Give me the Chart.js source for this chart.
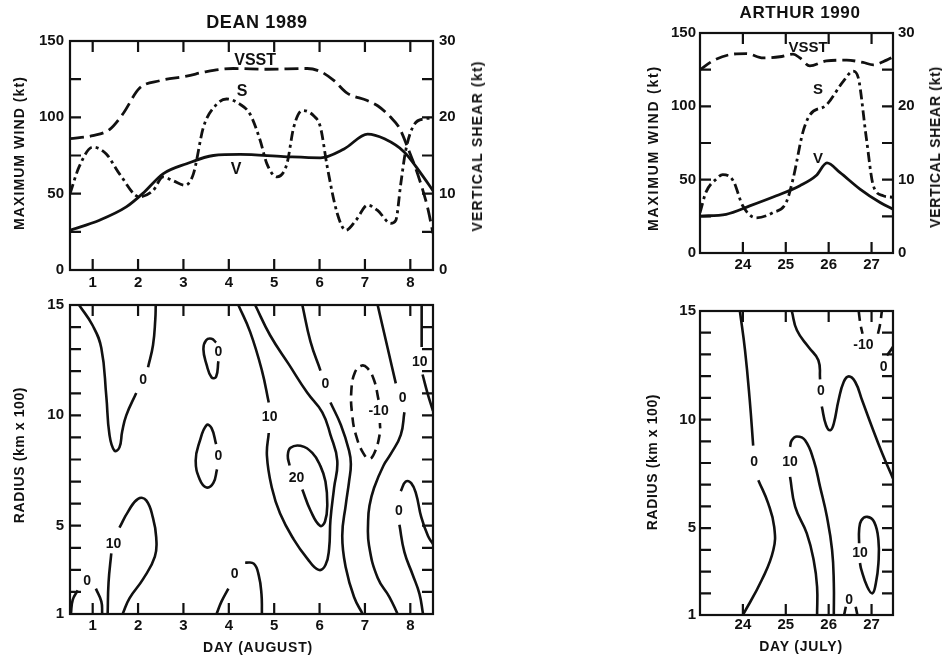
<!DOCTYPE html>
<html>
<head>
<meta charset="utf-8">
<script src="https://cdn.jsdelivr.net/npm/chart.js@4.4.1/dist/chart.umd.min.js"></script>
<style>
  body { margin: 0; width: 942px; height: 658px; position: relative; background: #fff; overflow: hidden; }
  canvas { position: absolute; }
  .t { position: absolute; font-family: "Liberation Sans", Arial, sans-serif; font-weight: bold; color: #111;
       white-space: nowrap; line-height: 1; transform: translate(-50%, -50%); }
  .v { transform: translate(-50%, -50%) rotate(-90deg); }
</style>
</head>
<body>
<canvas id="deanTop" width="500" height="290" style="left:0;top:0"></canvas>
<canvas id="deanBottom" width="500" height="368" style="left:0;top:290px"></canvas>
<canvas id="arthurTop" width="342" height="290" style="left:600px;top:0"></canvas>
<canvas id="arthurBottom" width="342" height="368" style="left:600px;top:290px"></canvas>

<div class="t" style="left:257px;top:22px;font-size:18px;letter-spacing:0.6px">DEAN 1989</div>
<div class="t" style="left:800px;top:12px;font-size:17px;letter-spacing:0.6px">ARTHUR 1990</div>
<div class="t v" style="left:19px;top:153px;font-size:14px;letter-spacing:1.1px">MAXIMUM WIND (kt)</div>
<div class="t v" style="left:477px;top:146px;font-size:14px;letter-spacing:1.2px">VERTICAL SHEAR (kt)</div>
<div class="t v" style="left:19px;top:455px;font-size:14px;letter-spacing:0.6px">RADIUS (km x 100)</div>
<div class="t" style="left:258px;top:647px;font-size:14px;letter-spacing:0.8px">DAY (AUGUST)</div>
<div class="t v" style="left:653px;top:148px;font-size:14px;letter-spacing:1.8px">MAXIMUM WIND (kt)</div>
<div class="t v" style="left:935px;top:147px;font-size:14px;letter-spacing:0.7px">VERTICAL SHEAR (kt)</div>
<div class="t v" style="left:652px;top:462px;font-size:14px;letter-spacing:0.6px">RADIUS (km x 100)</div>
<div class="t" style="left:801px;top:646px;font-size:14px;letter-spacing:0.8px">DAY (JULY)</div>

<script>
// Axis ticks
const deanDayTicks = [1, 2, 3, 4, 5, 6, 7, 8];
const arthurDayTicks = [24, 25, 26, 27];
const windTicks = [0, 25, 50, 75, 100, 125, 150];
const windLabels = [0, 50, 100, 150];
const shearTicks = [0, 5, 10, 15, 20, 25, 30];
const shearLabels = [0, 10, 20, 30];
const radiusTicks = [1, 2, 3, 4, 5, 6, 7, 8, 9, 10, 11, 12, 13, 14, 15];
const radiusLabels = [1, 5, 10, 15];

// DEAN 1989 time series: [day, value]
const deanWind = [[0.5,26],[1.15,32.6],[1.74,41.3],[2.1,50],[2.55,63],[3.07,69.6],[3.66,75],[4.25,75.7],
  [5.21,74.3],[6.02,73.5],[6.54,79.3],[7.06,89],[7.43,85.9],[7.87,77.2],[8.24,63],[8.5,52]];
const deanShear = [[0.5,10],[0.7,13.5],[1.0,16.1],[1.3,15.2],[1.59,12.6],[2.03,9.6],[2.33,10.4],[2.55,12.2],
  [2.77,11.7],[3.03,11.1],[3.22,12.6],[3.44,18.7],[3.73,21.7],[3.95,22.4],[4.25,21.7],[4.47,20.4],[4.69,17],
  [4.84,13.9],[5.06,12.2],[5.28,13.9],[5.43,18.7],[5.62,20.9],[5.87,20.2],[6.02,18.7],[6.17,13.5],[6.39,7.4],
  [6.58,5.2],[6.8,6.5],[7.06,8.5],[7.28,7.8],[7.57,6.1],[7.68,6.5],[7.79,11.3],[7.9,15.7],[8.09,19.1],
  [8.31,19.8],[8.5,19.9]];
const deanVsst = [[0.5,86],[1.0,88],[1.37,92],[1.66,102],[2.03,119],[2.48,124],[3.07,127],[3.51,130],[4.1,132],
  [4.84,131.5],[5.73,132],[6.02,130],[6.32,124],[6.6,116],[7.05,111],[7.28,107.6],[7.57,100],[7.76,93],
  [7.94,80.4],[8.16,63],[8.38,41],[8.5,24]];
const deanCurveLabels = [['VSST',4.58,137.4],['S',4.29,117],['V',4.16,66]];

// ARTHUR 1990 time series
const arthurWind = [[23.0,25.2],[23.61,26.4],[24.16,32.1],[24.78,39],[25.33,45.9],[25.71,52.8],[25.96,61.5],
  [26.26,55],[26.73,43.6],[27.2,34.4],[27.5,29.8]];
const arthurShear = [[23.0,5.5],[23.14,8.3],[23.38,10.1],[23.53,10.7],[23.77,9.9],[24.0,6.4],[24.31,4.8],
  [24.7,5.5],[25.01,6.9],[25.17,10.1],[25.4,16.5],[25.56,18.8],[25.95,20.2],[26.34,23.4],[26.57,24.8],
  [26.69,23.9],[26.88,15.6],[27.04,9.2],[27.27,7.8],[27.5,7.6]];
const arthurVsst = [[23.0,125],[23.3,131],[23.77,135.6],[24.08,136],[24.47,133],[24.86,133.8],[25.17,135.6],
  [25.33,133],[25.56,127.6],[25.95,131],[26.42,131.5],[26.8,129.9],[27.04,128.3],[27.35,131.5],[27.5,133.8]];
const arthurCurveLabels = [['VSST',25.52,140],['S',25.75,111],['V',25.75,64]];

// DEAN 1989 contours: [day, radius], null = break at a contour label
const deanC1 = [[0.7,15],[1.0,14.07],[1.19,13.05],[1.3,10.87],[1.37,9.12],[1.48,8.4],[1.59,8.55],[1.65,9.27],
  [1.74,10.0],[1.96,11.01],null,[2.22,12.18],[2.33,13.19],[2.38,14.36],[2.39,15]];
const deanC2 = [[3.77,12.45],[3.72,11.75],[3.62,11.72],[3.51,12.3],[3.44,13.0],[3.5,13.4],[3.62,13.47],[3.72,13.3]];
const deanC3 = [[3.72,8.7],[3.62,9.42],[3.51,9.56],[3.36,8.83],[3.27,7.96],[3.36,7.09],[3.51,6.73],[3.66,6.94],[3.74,7.55]];
const deanC4 = [[1.33,1.0],[1.35,2.44],[1.41,3.75],null,[1.59,4.91],[1.78,5.64],[2.0,6.22],[2.18,6.15],[2.33,5.34],
  [2.4,4.47],[2.37,3.6],[2.11,2.58],[1.81,1.71],[1.66,1.0]];
const deanC5 = [[0.52,1.0],[0.56,1.64],[0.67,2.07],null,[1.07,2.15],[1.19,1.57],[1.21,1.0]];
const deanC6 = [[3.73,1.0],[3.84,1.57],[3.99,2.15],null,[4.36,3.33],[4.55,3.28],[4.66,2.75],[4.72,1.9],[4.73,1.0]];
const deanC7 = [[4.21,15],[4.47,13.78],[4.73,12.03],[4.88,10.58],null,[4.88,9.2],[4.84,8.17],[4.95,6.71],[5.13,5.55],
  [5.43,4.38],[5.73,3.51],[5.98,3.0],[6.13,3.22],[6.21,3.95],[6.24,5.26],[6.32,6.71],[6.39,7.95],[6.24,9.12],
  [6.06,10.14],[5.73,11.02],[5.32,12.32],[4.91,13.63],[4.58,15]];
const deanC8 = [[5.62,6.64],[5.8,5.69],[6.01,5.0],[6.12,5.19],[6.17,5.98],[6.13,7.0],[6.02,7.7],[5.84,8.3],
  [5.58,8.62],[5.36,8.53],[5.3,8.17],[5.34,7.73]];
const deanC9 = [[5.62,15],[5.8,13.34],[6.02,12.03],null,[6.24,10.58],[6.47,9.56],[6.65,8.4],[6.69,7.8],[6.65,7.0],
  [6.58,5.98],[6.5,4.53],[6.58,3.08],[6.76,1.77],[6.95,1.0]];
const deanC10 = [[7.3,10.7],[7.2,11.6],[7.05,12.15],[6.92,12.25],[6.78,11.95],[6.7,11.1],[6.72,10.0],[6.8,9.12],
  [6.96,8.3],[7.1,8.03],[7.22,8.35],[7.33,9.2],[7.33,9.65]];
const deanC11 = [[7.28,15],[7.5,13.05],[7.68,11.45],null,[7.87,10.14],[7.79,9.12],[7.57,8.25],[7.41,7.73],[7.2,6.71],
  [7.1,5.9],[7.07,5.2],[7.09,4.1],[7.28,2.64],[7.54,1.77],[7.72,1.0]];
const deanC12 = [[8.5,4.17],[8.39,4.53],[8.24,5.4],[8.13,6.42],[8.02,6.93],[7.9,7.0],[7.79,6.57],null,[7.76,5.04],
  [7.87,3.8],[8.05,2.79],[8.2,1.92],[8.28,1.0]];
const deanC13 = [[8.25,15],[8.25,13.1],null,[8.27,11.85],[8.38,11.0],[8.5,10.2]];
const deanContours = [deanC1, deanC2, deanC3, deanC4, deanC5, deanC6, deanC7, deanC8, deanC9, deanC11, deanC12, deanC13];
const deanDashed = [deanC10];
const deanContourLabels = [['0',2.11,11.6],['0',3.77,12.85],['0',3.77,8.15],['10',1.46,4.18],['0',0.88,2.47],
  ['0',4.13,2.8],['10',4.9,9.92],['20',5.49,7.15],['0',6.13,11.43],['-10',7.3,10.17],['0',7.83,10.8],
  ['0',7.75,5.68],['10',8.21,12.43]];

// ARTHUR 1990 contours
const arthurC1 = [[23.93,15],[24.05,13.19],[24.16,10.89],[24.24,8.8],null,[24.36,7.21],[24.59,6.14],[24.73,5.06],
  [24.71,3.99],[24.44,2.61],[24.0,1.0]];
const arthurC2 = [[25.73,1.0],[25.73,2.3],[25.65,3.53],[25.49,4.76],[25.22,5.98],[25.1,7.36],null,[25.1,8.74],
  [25.14,9.05],[25.26,9.22],[25.45,9.05],[25.65,8.13],[25.8,6.9],[25.96,5.52],[26.08,3.99],[26.12,2.46],[26.12,1.0]];
const arthurC3 = [[25.14,15],[25.26,14.11],[25.53,13.34],[25.76,12.73],[25.8,11.85],null,[25.84,10.6],[25.94,9.74],
  [26.04,9.51],[26.12,9.82],[26.23,10.89],[26.35,11.73],[26.47,11.99],[26.62,11.73],[26.78,10.89],[27.01,9.66],
  [27.25,8.44],[27.5,7.29]];
const arthurC4 = [[26.71,4.3],[26.71,4.9],[26.76,5.35],[26.9,5.52],[27.06,5.29],[27.16,4.45],[27.16,3.38],
  [27.1,2.46],[27.02,2.0],[26.9,2.3],[26.76,3.1],[26.73,3.4]];
const arthurC5 = [[26.36,1.0],[26.4,1.38],null,[26.63,1.38],[26.67,1.0]];
const arthurC6 = [[27.36,12.95],[27.43,13.15],[27.5,13.35]];
const arthurC7 = [[26.7,15],[26.74,14.4],[26.79,13.95],null,[27.15,13.95],[27.2,14.4],[27.24,15]];
const arthurContours = [arthurC1, arthurC2, arthurC3, arthurC4, arthurC5, arthurC6];
const arthurDashed = [arthurC7];
const arthurContourLabels = [['0',24.26,8.05],['10',25.1,8.05],['0',25.82,11.3],['-10',26.81,13.42],
  ['0',27.28,12.4],['10',26.73,3.85],['0',26.48,1.7]];

const ink = '#111';
const tickFont = { family: 'Liberation Sans', size: 15, weight: 'bold' };

function pts(pairs) {
  return pairs.map(p => p ? { x: p[0], y: p[1] } : { x: null, y: null });
}

function axis(min, max, ticks, labels, position, size, pad) {
  return {
    type: 'linear', position: position, min: min, max: max,
    grid: { display: false, drawTicks: false },
    border: { display: false },
    afterBuildTicks: s => { s.ticks = ticks.map(v => ({ value: v })); },
    afterFit: s => { if (s.isHorizontal()) s.height = size; else s.width = size; },
    ticks: {
      autoSkip: false, maxRotation: 0, padding: pad, font: tickFont, color: ink,
      callback: v => labels.includes(v) ? String(v) : ''
    }
  };
}

// box round the plot area with inward tick marks on all four sides
const framePlugin = {
  id: 'frame',
  afterDraw(chart) {
    const { ctx, chartArea: a, scales } = chart;
    const len = 11;
    ctx.save();
    ctx.strokeStyle = ink;
    ctx.lineWidth = 2.2;
    ctx.strokeRect(a.left, a.top, a.right - a.left, a.bottom - a.top);
    ctx.beginPath();
    scales.x.ticks.forEach(t => {
      const px = scales.x.getPixelForValue(t.value);
      if (px <= a.left + 1 || px >= a.right - 1) return;
      ctx.moveTo(px, a.bottom); ctx.lineTo(px, a.bottom - len);
      ctx.moveTo(px, a.top); ctx.lineTo(px, a.top + len);
    });
    scales.y.ticks.forEach(t => {
      const py = scales.y.getPixelForValue(t.value);
      if (py <= a.top + 1 || py >= a.bottom - 1) return;
      ctx.moveTo(a.left, py); ctx.lineTo(a.left + len, py);
      ctx.moveTo(a.right, py); ctx.lineTo(a.right - len, py);
    });
    ctx.stroke();
    ctx.restore();
  }
};

// text marks placed in data coordinates
const marksPlugin = {
  id: 'marks',
  afterDatasetsDraw(chart, args, opts) {
    const { ctx, scales } = chart;
    ctx.save();
    ctx.font = opts.font;
    ctx.fillStyle = ink;
    ctx.textAlign = 'center';
    ctx.textBaseline = 'middle';
    (opts.items || []).forEach(([t, x, y]) => {
      ctx.fillText(t, scales.x.getPixelForValue(x), scales.y.getPixelForValue(y));
    });
    ctx.restore();
  }
};

function seriesSet(pairs, dash, axisId) {
  return {
    data: pts(pairs), yAxisID: axisId, borderColor: ink, borderWidth: 2.8, borderDash: dash,
    pointRadius: 0, fill: false, cubicInterpolationMode: 'monotone'
  };
}

function contourSet(pairs, dash) {
  return {
    data: pts(pairs), borderColor: ink, borderWidth: 2.6, borderDash: dash,
    pointRadius: 0, fill: false, tension: 0.45
  };
}

function baseOptions(padding, scales, items, font) {
  return {
    responsive: false, animation: false, events: [],
    layout: { padding: padding },
    plugins: { legend: { display: false }, tooltip: { enabled: false }, marks: { items: items, font: font } },
    scales: scales
  };
}

document.addEventListener('DOMContentLoaded', function () {
  new Chart(document.getElementById('deanTop'), {
    type: 'line',
    data: { datasets: [
      seriesSet(deanVsst, [14, 6], 'y'),
      seriesSet(deanShear, [10, 4, 3, 4], 'y1'),
      seriesSet(deanWind, [], 'y')
    ] },
    options: baseOptions({ top: 41, left: 0, right: 0, bottom: 0 }, {
      x: axis(0.5, 8.5, deanDayTicks, deanDayTicks, 'bottom', 20, 4),
      y: axis(0, 150, windTicks, windLabels, 'left', 70, 6),
      y1: axis(0, 30, shearTicks, shearLabels, 'right', 67, 6)
    }, deanCurveLabels, 'bold 16px "Liberation Sans"'),
    plugins: [framePlugin, marksPlugin]
  });

  new Chart(document.getElementById('deanBottom'), {
    type: 'line',
    data: { datasets: deanContours.map(c => contourSet(c, []))
      .concat(deanDashed.map(c => contourSet(c, [10, 6]))) },
    options: baseOptions({ top: 3, left: 0, right: 67, bottom: 0 }, {
      x: axis(0.5, 8.5, deanDayTicks, deanDayTicks, 'bottom', 44, 3),
      y: axis(1, 15, radiusTicks, radiusLabels, 'left', 70, 6)
    }, deanContourLabels, 'bold 14px "Liberation Sans"'),
    plugins: [framePlugin, marksPlugin]
  });

  new Chart(document.getElementById('arthurTop'), {
    type: 'line',
    data: { datasets: [
      seriesSet(arthurVsst, [13, 6], 'y'),
      seriesSet(arthurShear, [10, 4, 3, 4], 'y1'),
      seriesSet(arthurWind, [], 'y')
    ] },
    options: baseOptions({ top: 33, left: 0, right: 0, bottom: 0 }, {
      x: axis(23, 27.5, arthurDayTicks, arthurDayTicks, 'bottom', 37, 3),
      y: axis(0, 150, windTicks, windLabels, 'left', 100, 4),
      y1: axis(0, 30, shearTicks, shearLabels, 'right', 49, 5)
    }, arthurCurveLabels, 'bold 15px "Liberation Sans"'),
    plugins: [framePlugin, marksPlugin]
  });

  new Chart(document.getElementById('arthurBottom'), {
    type: 'line',
    data: { datasets: arthurContours.map(c => contourSet(c, []))
      .concat(arthurDashed.map(c => contourSet(c, [10, 6]))) },
    options: baseOptions({ top: 21, left: 0, right: 49, bottom: 0 }, {
      x: axis(23, 27.5, arthurDayTicks, arthurDayTicks, 'bottom', 43, 1),
      y: axis(1, 15, radiusTicks, radiusLabels, 'left', 100, 4)
    }, arthurContourLabels, 'bold 14px "Liberation Sans"'),
    plugins: [framePlugin, marksPlugin]
  });
});
</script>
</body>
</html>
